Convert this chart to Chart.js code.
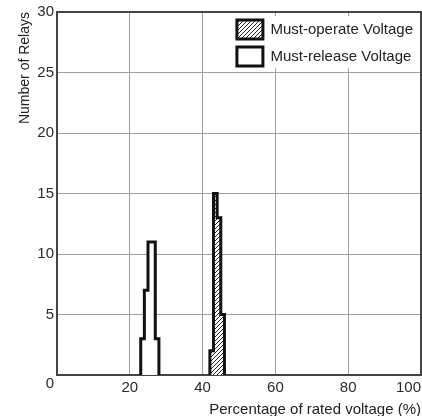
<!DOCTYPE html>
<html>
<head>
<meta charset="utf-8">
<script src="https://cdn.jsdelivr.net/npm/chart.js@4.4.1/dist/chart.umd.min.js"></script>
<style>
  html, body { margin: 0; padding: 0; background: #fff; }
  #wrap { width: 422px; height: 416px; }
</style>
</head>
<body>
<div id="wrap"><canvas id="chart"></canvas></div>
<script>
// Histogram data: bin start (% of rated voltage) and number of relays per 1% bin
const releaseBins = [23, 24, 25, 26, 27];
const releaseCounts = [3, 7, 11, 11, 3];
const operateBins = [42, 43, 44, 45];
const operateCounts = [2, 15, 13, 5];
const binWidth = 1;

const seriesLabels = ['Must-operate Voltage', 'Must-release Voltage'];
const xTitle = 'Percentage of rated voltage (%)';
const yTitle = 'Number of Relays';

// turn bins into a stepped outline: up at first bin, across each bin, down after last
function stepOutline(bins, counts) {
  const pts = [{ x: bins[0], y: 0 }];
  bins.forEach((b, i) => pts.push({ x: b, y: counts[i] }));
  pts.push({ x: bins[bins.length - 1] + binWidth, y: 0 });
  return pts;
}

function hatchPattern() {
  const c = document.createElement('canvas');
  c.width = 4; c.height = 4;
  const g = c.getContext('2d');
  g.fillStyle = '#fff';
  g.fillRect(0, 0, 4, 4);
  g.strokeStyle = '#222';
  g.lineWidth = 1;
  g.beginPath();
  g.moveTo(-1, 5); g.lineTo(5, -1);
  g.stroke();
  return g.createPattern(c, 'repeat');
}

// put the legend in the top right corner of the plot, on a white patch
const legendCorner = {
  id: 'legendCorner',
  afterLayout(chart) {
    const lg = chart.legend, ca = chart.chartArea;
    const pad = lg.options.labels.padding;
    const w = Math.max(...lg.legendHitBoxes.map(b => b.width));
    lg.left = ca.right - 8 - w - pad;
    lg.right = ca.right;
    lg.top = ca.top;
    lg.bottom = ca.bottom;
  },
  beforeDatasetsDraw(chart) {
    const lg = chart.legend, ca = chart.chartArea, ctx = chart.ctx;
    const boxes = lg.legendHitBoxes;
    if (!boxes || !boxes.length) return;
    const first = boxes[0], last = boxes[boxes.length - 1];
    const x0 = first.left - 14, y0 = first.top - 4;
    ctx.save();
    ctx.fillStyle = '#fff';
    ctx.fillRect(x0, y0, ca.right - 1.5 - x0, last.top + last.height + 2 - y0);
    ctx.restore();
    lg.draw();
  }
};

Chart.defaults.font.family = '"Liberation Sans", Arial, Helvetica, sans-serif';
Chart.defaults.font.size = 15;
Chart.defaults.color = '#2a2a2a';

const frame = { color: '#444', width: 2 };
const grid = { color: '#a0a0a0', lineWidth: 1, drawTicks: false, z: -1 };

new Chart(document.getElementById('chart'), {
  type: 'line',
  data: {
    datasets: [
      {
        label: seriesLabels[0],
        data: stepOutline(operateBins, operateCounts),
        xAxisID: 'x', yAxisID: 'y',
        stepped: true,
        borderColor: '#111',
        borderWidth: 3,
        backgroundColor: hatchPattern(),
        fill: 'origin',
        pointRadius: 0,
        borderJoinStyle: 'miter'
      },
      {
        label: seriesLabels[1],
        data: stepOutline(releaseBins, releaseCounts),
        xAxisID: 'x', yAxisID: 'y',
        stepped: true,
        borderColor: '#111',
        borderWidth: 3,
        backgroundColor: '#fff',
        fill: 'origin',
        pointRadius: 0,
        borderJoinStyle: 'miter'
      }
    ]
  },
  options: {
    responsive: true,
    maintainAspectRatio: false,
    animation: false,
    layout: { padding: { top: 12, right: 1, bottom: 0, left: 0 } },
    plugins: {
      legend: {
        position: 'chartArea',
        align: 'start',
        labels: {
          boxWidth: 26,
          boxHeight: 19,
          padding: 8,
          textAlign: 'left',
          color: '#222',
          font: { size: 15 }
        }
      },
      tooltip: { enabled: false }
    },
    scales: {
      x: {
        type: 'linear',
        position: 'bottom',
        min: 0,
        max: 100,
        ticks: {
          stepSize: 20,
          align: 'inner',
          padding: 4,
          maxRotation: 0,
          autoSkip: false,
          callback: v => (v === 0 ? '' : v)
        },
        grid: grid,
        border: frame,
        title: {
          display: true,
          text: xTitle,
          align: 'end',
          color: '#222',
          font: { size: 15 },
          padding: { top: 0, bottom: -3 }
        },
        afterFit: s => { s.height = 41; s.paddingRight = 0; }
      },
      y: {
        position: 'left',
        min: 0,
        max: 30,
        ticks: {
          stepSize: 5,
          padding: 3,
          callback: v => (v === 0 ? ['', '0'] : v)
        },
        grid: grid,
        border: frame,
        title: {
          display: true,
          text: yTitle,
          align: 'end',
          color: '#222',
          font: { size: 14 },
          padding: { top: 17, bottom: 0 }
        },
        afterFit: s => { s.width = 57; }
      },
      x2: {
        type: 'linear',
        position: 'top',
        min: 0,
        max: 100,
        ticks: { display: false },
        grid: { drawOnChartArea: false, drawTicks: false },
        border: frame,
        afterFit: s => { s.height = 0; s.paddingRight = 0; }
      },
      y2: {
        position: 'right',
        min: 0,
        max: 30,
        ticks: { display: false },
        grid: { drawOnChartArea: false, drawTicks: false },
        border: frame,
        afterFit: s => { s.width = 0; }
      }
    }
  },
  plugins: [legendCorner]
});
</script>
</body>
</html>
